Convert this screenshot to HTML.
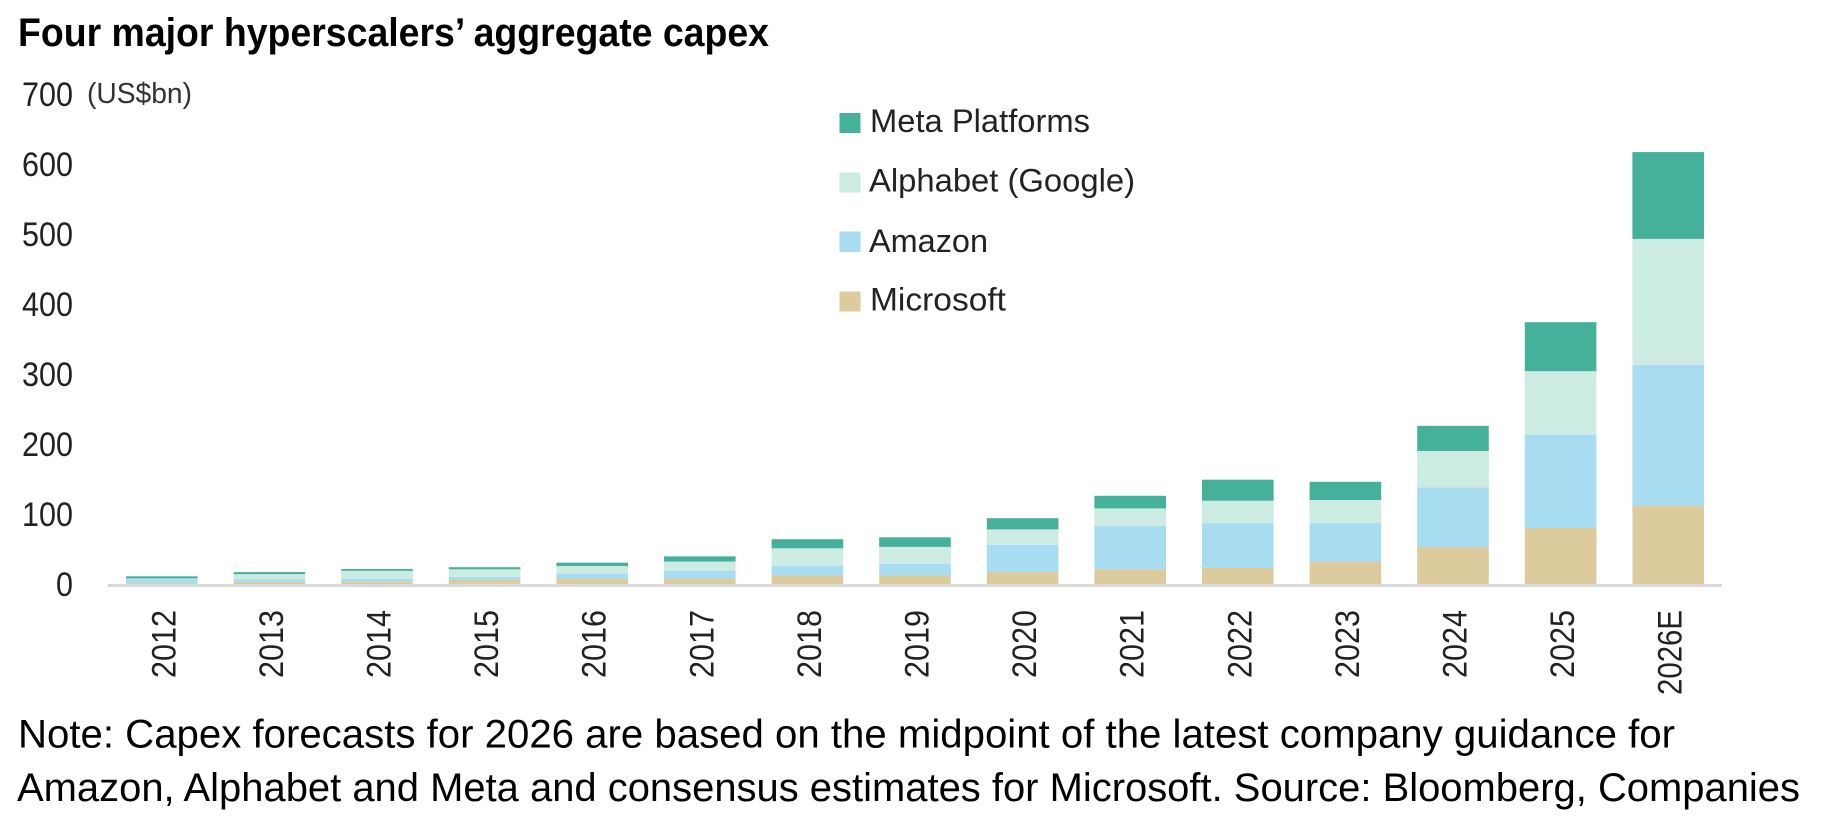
<!DOCTYPE html>
<html lang="en">
<head>
<meta charset="utf-8">
<title>Four major hyperscalers' aggregate capex</title>
<style>
html,body{margin:0;padding:0;background:#fff;width:1822px;height:826px;overflow:hidden}
svg{display:block;font-family:"Liberation Sans",sans-serif}
</style>
</head>
<body>
<svg id="chart" xmlns="http://www.w3.org/2000/svg" width="1822" height="826" viewBox="0 0 1822 826">
  <rect x="0" y="0" width="1822" height="826" fill="#ffffff"/>
  <text x="18" y="46" font-size="39.5" font-weight="700" fill="#000" textLength="751" lengthAdjust="spacingAndGlyphs">Four major hyperscalers’ aggregate capex</text>
  <text x="87" y="103" font-size="28.5" fill="#333" textLength="105" lengthAdjust="spacingAndGlyphs">(US$bn)</text>
  <g id="bars"></g>
  <rect x="108" y="584" width="1614" height="3" fill="#d9d9d9"/>
  <g id="yticks"></g>
  <g id="xticks"></g>
  <g>
    <g>
      <rect x="839.5" y="113" width="21" height="20" fill="#46b19b"/>
      <text x="870" y="132" font-size="32" fill="#222" textLength="220" lengthAdjust="spacingAndGlyphs">Meta Platforms</text>
    </g>
    <g>
      <rect x="839.5" y="172.5" width="21" height="20" fill="#cbebe3"/>
      <text x="869" y="191.5" font-size="32" fill="#222" textLength="266" lengthAdjust="spacingAndGlyphs">Alphabet (Google)</text>
    </g>
    <g>
      <rect x="839.5" y="231.5" width="21" height="20.5" fill="#a8dcf1"/>
      <text x="869" y="252" font-size="32" fill="#222" textLength="119" lengthAdjust="spacingAndGlyphs">Amazon</text>
    </g>
    <g>
      <rect x="839.5" y="291.5" width="21" height="20" fill="#dccb9d"/>
      <text x="870" y="310.5" font-size="32" fill="#222" textLength="136" lengthAdjust="spacingAndGlyphs">Microsoft</text>
    </g>
  </g>
  <text x="18" y="747.5" font-size="40" fill="#000" textLength="1657" lengthAdjust="spacingAndGlyphs">Note: Capex forecasts for 2026 are based on the midpoint of the latest company guidance for</text>
  <text x="17" y="801" font-size="40" fill="#000" textLength="1783" lengthAdjust="spacingAndGlyphs">Amazon, Alphabet and Meta and consensus estimates for Microsoft. Source: Bloomberg, Companies</text>
</svg>
<script>
const categories = ["2012","2013","2014","2015","2016","2017","2018","2019","2020","2021","2022","2023","2024","2025","2026E"];
const microsoft = [1, 3, 3.3, 5.7, 7.6, 7.6, 12.4, 12.4, 17, 21, 23, 32, 53, 80, 112];
const amazon = [6, 4, 4, 4.3, 7.2, 11.4, 13.6, 16.2, 39, 62, 64, 55, 85, 133, 201];
const alphabet = [1, 7, 11.5, 11, 10.9, 13, 25, 24.4, 22, 25, 32, 33, 52, 91, 180];
const meta = [3, 3, 2.6, 3, 4.8, 7.5, 13, 13.7, 16, 18, 30, 26, 36, 70, 124];
const yTicks = [0, 100, 200, 300, 400, 500, 600, 700];

const NS = "http://www.w3.org/2000/svg";
const plotLeft = 108, plotRight = 1722, baseY = 584, pxPerUnit = 0.7, barW = 71.6;
function yScale(v){ return baseY - v * pxPerUnit; }
function xCenter(i){ return plotLeft + (plotRight - plotLeft) / categories.length * (i + 0.5); }

const barsG = document.getElementById("bars");
const yG = document.getElementById("yticks");
const xG = document.getElementById("xticks");

const stackOrder = [
  { key: "microsoft", values: microsoft, color: "#dccb9d" },
  { key: "amazon", values: amazon, color: "#a8dcf1" },
  { key: "alphabet", values: alphabet, color: "#cbebe3" },
  { key: "meta", values: meta, color: "#46b19b" }
];

categories.forEach(function(cat, i){
  let cum = 0;
  stackOrder.forEach(function(s){
    const v = s.values[i];
    const rect = document.createElementNS(NS, "rect");
    rect.setAttribute("x", xCenter(i) - barW / 2);
    rect.setAttribute("y", yScale(cum + v));
    rect.setAttribute("width", barW);
    rect.setAttribute("height", v * pxPerUnit);
    rect.setAttribute("fill", s.color);
    
    
    barsG.appendChild(rect);
    cum += v;
  });

  const t = document.createElementNS(NS, "text");
  const bx = xCenter(i) + 13.5;
  t.setAttribute("transform", "translate(" + bx + ",610) rotate(-90)");
  t.setAttribute("text-anchor", "end");
  t.setAttribute("font-size", "34");
  t.setAttribute("fill", "#222");
  t.setAttribute("textLength", cat.length * 17);
  t.setAttribute("lengthAdjust", "spacingAndGlyphs");
  
  
  t.textContent = cat;
  xG.appendChild(t);
});

yTicks.forEach(function(v){
  const label = String(v);
  const t = document.createElementNS(NS, "text");
  t.setAttribute("x", 73);
  t.setAttribute("y", yScale(v) + 12);
  t.setAttribute("text-anchor", "end");
  t.setAttribute("font-size", "34");
  t.setAttribute("fill", "#222");
  t.setAttribute("textLength", label.length * 17);
  t.setAttribute("lengthAdjust", "spacingAndGlyphs");
  
  
  t.textContent = label;
  yG.appendChild(t);
});
</script>
</body>
</html>
